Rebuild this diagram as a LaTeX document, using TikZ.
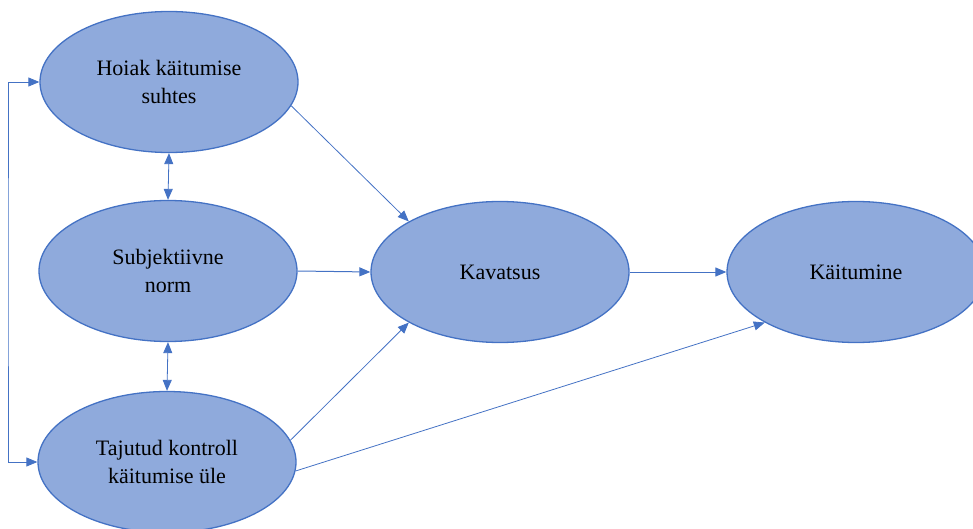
\documentclass[tikz,border=0pt]{standalone}
\usepackage{fontspec}
\setmainfont{Liberation Serif}
\usetikzlibrary{arrows.meta,shapes}

\definecolor{ovalfill}{HTML}{8FAADC}
\definecolor{ovalline}{HTML}{4472C4}

\tikzset{
  oval/.style={ellipse, draw=ovalline, fill=ovalfill, line width=1.3pt,
    minimum width=258pt, minimum height=141pt, inner sep=0pt, align=center,
    font=\fontsize{22}{28}\selectfont},
  link/.style={draw=ovalline, line width=0.8pt, -{Triangle[length=11pt,width=9pt]}},
  both/.style={link, {Triangle[length=11pt,width=9pt]}-{Triangle[length=11pt,width=9pt]}}
}

\begin{document}
\begin{tikzpicture}[x=1pt,y=-1pt]
\useasboundingbox (0,0) rectangle (973,529);
% the five ovals
\node[oval] (hoiak) at (169,82)  {Hoiak käitumise\\suhtes};
\node[oval] (subj)  at (168,271) {Subjektiivne\\norm};
\node[oval] (taj)   at (167,462) {Tajutud kontroll\\käitumise üle};
\node[oval] (kav)   at (500,272) {Kavatsus};
\node[oval] (kait)  at (856,272) {Käitumine};
\coordinate (loop) at (8,272);

\draw[link] (hoiak.-11) -- (kav.151);
\draw[link,line width=1pt] (subj.east) -- (kav.west);
\draw[link] (taj.10) -- (kav.209);
\draw[link,line width=1pt] (kav.east) -- (kait.west);
\draw[link] (taj.-4) -- (kait.209);
\draw[both] (hoiak.south) -- (subj.north);
\draw[both] (subj.south) -- (taj.north);
\draw[both] (hoiak.west) -| (loop) |- (taj.west);
\end{tikzpicture}
\end{document}
